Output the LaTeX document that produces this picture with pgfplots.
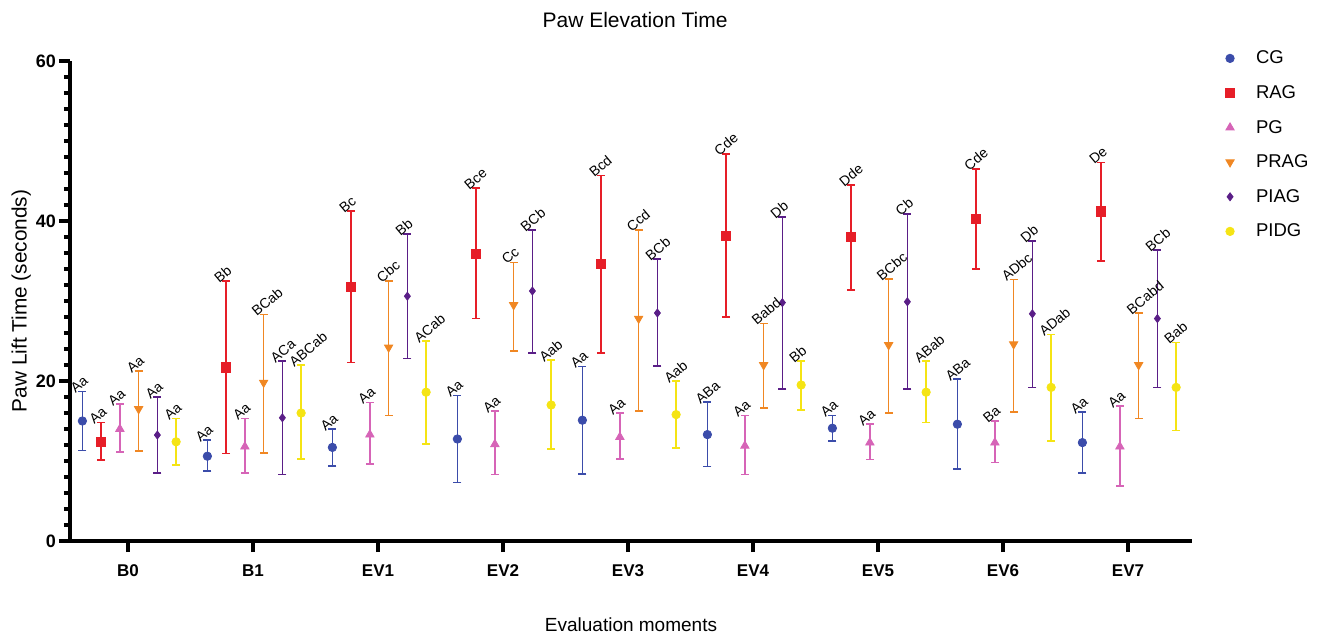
\documentclass[border=0pt]{standalone}
\usepackage{fontspec}
\setmainfont{Liberation Sans}
\usepackage{pgfplots}
\usepackage{pgfplotstable}
\pgfplotsset{compat=1.18}

\definecolor{cCG}{RGB}{59,76,170}
\definecolor{cRAG}{RGB}{230,30,40}
\definecolor{cPG}{RGB}{214,100,183}
\definecolor{cPRAG}{RGB}{240,135,35}
\definecolor{cPIAG}{RGB}{90,30,135}
\definecolor{cPIDG}{RGB}{245,228,20}

\pgfplotstableread{
g y lo hi lab
0 15.0 11.3 18.7 Aa
1 10.6 8.75 12.6 Aa
2 11.7 9.4 14.0 Aa
3 12.75 7.3 18.2 Aa
4 15.1 8.4 21.8 Aa
5 13.3 9.3 17.4 ABa
6 14.1 12.5 15.7 Aa
7 14.6 9.0 20.25 ABa
8 12.3 8.5 16.1 Aa
}\tCG
\pgfplotstableread{
g y lo hi lab
0 12.4 10.1 14.8 Aa
1 21.7 10.96 32.5 Bb
2 31.8 22.3 41.25 Bc
3 35.9 27.8 44.1 Bce
4 34.6 23.5 45.7 Bcd
5 38.1 28.0 48.4 Cde
6 38.0 31.4 44.5 Dde
7 40.25 34.0 46.5 Cde
8 41.2 35.0 47.3 De
}\tRAG
\pgfplotstableread{
g y lo hi lab
0 14.0 11.1 17.1 Aa
1 11.8 8.5 15.3 Aa
2 13.3 9.6 17.3 Aa
3 12.1 8.3 16.25 Aa
4 13.0 10.25 16.0 Aa
5 11.9 8.3 15.7 Aa
6 12.3 10.2 14.6 Aa
7 12.3 9.8 15.0 Ba
8 11.8 6.9 16.9 Aa
}\tPG
\pgfplotstableread{
g y lo hi lab
0 16.5 11.25 21.25 Aa
1 19.8 11.0 28.3 BCab
2 24.2 15.7 32.5 Cbc
3 29.5 23.75 34.8 Cc
4 27.8 16.25 38.9 Ccd
5 22.0 16.6 27.2 Babd
6 24.5 16.0 32.75 BCbc
7 24.6 16.1 32.7 ADbc
8 22.0 15.3 28.5 BCabd
}\tPRAG
\pgfplotstableread{
g y lo hi lab
0 13.25 8.5 18.0 Aa
1 15.4 8.3 22.5 ACa
2 30.6 22.8 38.4 Bb
3 31.25 23.5 38.9 BCb
4 28.5 21.9 35.25 BCb
5 29.8 19.0 40.5 Db
6 29.9 19.0 40.9 Cb
7 28.4 19.2 37.5 Db
8 27.8 19.2 36.4 BCb
}\tPIAG
\pgfplotstableread{
g y lo hi lab
0 12.4 9.5 15.3 Aa
1 16.0 10.25 22.0 ABCab
2 18.6 12.1 25.0 ACab
3 17.0 11.5 22.6 Aab
4 15.8 11.6 20.0 Aab
5 19.5 16.4 22.5 Bb
6 18.6 14.8 22.5 ABab
7 19.2 12.5 25.8 ADab
8 19.2 13.8 24.8 Bab
}\tPIDG

\pgfplotsset{
  grp/.style={only marks, color=#1, mark options={fill=#1, draw=#1, solid},
    error bars/y dir=both, error bars/y explicit,
    error bars/error bar style={line width=0.8pt, color=#1, solid},
    error bars/error mark options={rotate=90, mark size=2pt, line width=0.8pt, color=#1, solid}},
  lbl/.style={draw=none, mark=none, forget plot, nodes near coords,
    point meta=explicit symbolic,
    every node near coord/.append style={rotate=40, anchor=south west,
      inner sep=0pt, xshift=-3.5pt, yshift=1pt, font=\fontsize{7}{8}\selectfont, text=black}},
}

\begin{document}
\begin{tikzpicture}
\begin{axis}[
  scale only axis, width=561pt, height=240pt,
  xmin=-0.464, xmax=8.512, ymin=0, ymax=60,
  clip=false,
  axis lines=left,
  axis line style={line width=2pt, -},
  xtick={0,...,8},
  xticklabels={B0,B1,EV1,EV2,EV3,EV4,EV5,EV6,EV7},
  ytick={0,20,40,60},
  minor y tick num=9,
  tick align=outside,
  major tick length=5.5pt,
  minor tick length=3pt,
  every tick/.style={line width=1.6pt, black},
  /pgf/number format/assume math mode=true,
  x tick label style={font=\bfseries\fontsize{8.5}{10}\selectfont, yshift=-3pt},
  y tick label style={font=\bfseries\fontsize{9}{10}\selectfont, xshift=2pt},
  every axis title shift=0pt,
  title={Paw Elevation Time},
  title style={at={(rel axis cs:0.5036,1.0854)}, anchor=center, font=\fontsize{10.5}{12}\selectfont},
  xlabel={Evaluation moments},
  xlabel style={at={(rel axis cs:0.5,-0.175)}, anchor=center, font=\fontsize{9.5}{11}\selectfont},
  ylabel={Paw Lift Time (seconds)},
  ylabel style={at={(rel axis cs:-0.0435,0.5)}, anchor=center, rotate=0, font=\fontsize{10.4}{12}\selectfont},
  legend cell align=left,
  legend image code/.code={\draw[mark repeat=2,mark phase=2,#1,draw=none] plot coordinates {(0cm,0cm) (0.3cm,0cm) (0.6cm,0cm)};
    \path[draw=none,fill=none] (0.3cm,0pt) -- (0.3cm+10pt,0pt);},
  legend style={at={(rel axis cs:1.0241,1.049)}, anchor=north west, draw=none, fill=none,
    font=\fontsize{9.25}{11}\selectfont, row sep=0.8pt,
    nodes={text height=8pt, text depth=2.5pt, inner sep=3pt}},
]
% CG
\addplot[grp={cCG}, mark=*, mark size=2.1pt] table[x expr=\thisrow{g}-0.365, y=y,
  y error plus expr=\thisrow{hi}-\thisrow{y}, y error minus expr=\thisrow{y}-\thisrow{lo}] {\tCG};
\addlegendentry{CG}
% RAG
\addplot[grp={cRAG}, mark=square*, mark size=2.3pt] table[x expr=\thisrow{g}-0.215, y=y,
  y error plus expr=\thisrow{hi}-\thisrow{y}, y error minus expr=\thisrow{y}-\thisrow{lo}] {\tRAG};
\addlegendentry{RAG}
% PG
\addplot[grp={cPG}, mark=triangle*, mark size=2.4pt] table[x expr=\thisrow{g}-0.065, y=y,
  y error plus expr=\thisrow{hi}-\thisrow{y}, y error minus expr=\thisrow{y}-\thisrow{lo}] {\tPG};
\addlegendentry{PG}
% PRAG
\addplot[grp={cPRAG}, mark=triangle*, mark size=2.4pt, mark options={rotate=180}] table[x expr=\thisrow{g}+0.085, y=y,
  y error plus expr=\thisrow{hi}-\thisrow{y}, y error minus expr=\thisrow{y}-\thisrow{lo}] {\tPRAG};
\addlegendentry{PRAG}
% PIAG
\addplot[grp={cPIAG}, mark=diamond*, mark size=2pt] table[x expr=\thisrow{g}+0.235, y=y,
  y error plus expr=\thisrow{hi}-\thisrow{y}, y error minus expr=\thisrow{y}-\thisrow{lo}] {\tPIAG};
\addlegendentry{PIAG}
% PIDG
\addplot[grp={cPIDG}, mark=*, mark size=2.1pt] table[x expr=\thisrow{g}+0.385, y=y,
  y error plus expr=\thisrow{hi}-\thisrow{y}, y error minus expr=\thisrow{y}-\thisrow{lo}] {\tPIDG};
\addlegendentry{PIDG}

% letter labels above the upper error bars
\addplot[lbl] table[x expr=\thisrow{g}-0.365, y=hi, meta=lab] {\tCG};
\addplot[lbl] table[x expr=\thisrow{g}-0.215, y=hi, meta=lab] {\tRAG};
\addplot[lbl] table[x expr=\thisrow{g}-0.065, y=hi, meta=lab] {\tPG};
\addplot[lbl] table[x expr=\thisrow{g}+0.085, y=hi, meta=lab] {\tPRAG};
\addplot[lbl] table[x expr=\thisrow{g}+0.235, y=hi, meta=lab] {\tPIAG};
\addplot[lbl] table[x expr=\thisrow{g}+0.385, y=hi, meta=lab] {\tPIDG};
\end{axis}
\pgfresetboundingbox
\path[use as bounding box] (-35pt,-48pt) rectangle (626pt,270.5pt);
\end{tikzpicture}
\end{document}
